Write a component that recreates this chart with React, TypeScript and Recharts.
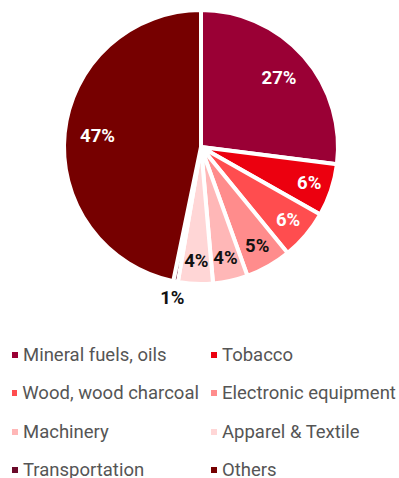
import React from 'react';
import { PieChart, Pie, Cell } from 'recharts';

const categories = [
  'Mineral fuels, oils',
  'Tobacco',
  'Wood, wood charcoal',
  'Electronic equipment',
  'Machinery',
  'Apparel & Textile',
  'Transportation',
  'Others',
];
const shares = [27, 6.2, 5.9, 5.4, 4.1, 4.1, 0.55, 46.75];
const colors = ['#9a0035', '#ec000f', '#ff4d4f', '#ff8c8c', '#ffb7b7', '#ffd6d6', '#6b0a2a', '#760000'];
const labelColors = ['#fff', '#fff', '#fff', '#111', '#111', '#111', '#111', '#fff'];

const data = categories.map((name, i) => ({ name, value: shares[i] }));

const RADIAN = Math.PI / 180;

const renderLabel = (props: any) => {
  const { cx, cy, midAngle, percent, index } = props;
  // tiny slices get their label outside the pie, big ones sit a bit deeper
  const r = percent < 0.02 ? 154 : percent > 0.2 ? 104 : 114;
  const x = cx + r * Math.cos(-midAngle * RADIAN);
  const y = cy + r * Math.sin(-midAngle * RADIAN);
  return (
    <text
      x={x}
      y={y}
      fill={labelColors[index]}
      textAnchor="middle"
      dominantBaseline="central"
      fontFamily="Roboto"
      fontWeight="bold"
      fontSize={18.5}
    >
      {Math.round(percent * 100)}%
    </text>
  );
};

export default function App() {
  return (
    <div style={{ position: 'absolute', left: 0, top: 0, width: 399, height: 478, background: '#fff' }}>
      <PieChart width={399} height={320} margin={{ top: 0, right: 0, bottom: 0, left: 0 }}>
        <Pie
          data={data}
          dataKey="value"
          nameKey="name"
          cx={201}
          cy={147}
          outerRadius={137}
          startAngle={90}
          endAngle={-270}
          stroke="#fff"
          strokeWidth={4}
          label={renderLabel}
          labelLine={false}
          isAnimationActive={false}
        >
          {data.map((d, i) => (
            <Cell key={d.name} fill={colors[i]} />
          ))}
        </Pie>
      </PieChart>
      <div
        style={{
          position: 'absolute',
          left: 0,
          top: 336,
          width: 399,
          display: 'grid',
          gridTemplateColumns: '199px 200px',
          fontFamily: 'Roboto',
          fontSize: 18.5,
          color: '#555',
        }}
      >
        {categories.map((c, i) => (
          <div key={c} style={{ height: 38.3, display: 'flex', alignItems: 'center', paddingLeft: 12, whiteSpace: 'nowrap' }}>
            <span style={{ width: 6, height: 6, background: colors[i], marginRight: 5, display: 'inline-block' }} />
            {c}
          </div>
        ))}
      </div>
    </div>
  );
}
